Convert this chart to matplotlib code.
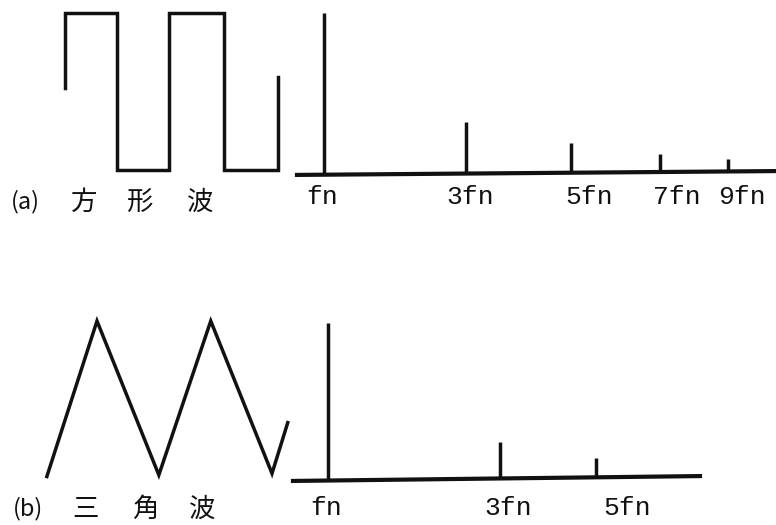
import matplotlib.pyplot as plt
import numpy as np

# -------------------------------
# Square / triangle waves and their spectra
# -------------------------------

# square wave: corner times (one unit ~ half period) and levels (0 = low, 1 = high)
sq_t = [0, 0, 0.98, 0.98, 1.95, 1.95, 2.98, 2.98, 4.0, 4.0]
sq_v = [0.52, 1, 1, 0, 0, 1, 1, 0, 0, 0.59]

# triangle wave: vertex times and levels
tri_t = [0.14, 1.0, 2.06, 2.95, 4.0, 4.27]
tri_v = [-0.01, 1.0, 0.0, 1.0, 0.01, 0.34]

# square wave spectrum (positions along the drawn axis, relative amplitudes)
harm_a = ['fn', '3fn', '5fn', '7fn', '9fn']
pos_a = [1.0, 2.0, 2.74, 3.37, 3.85]
amp_a = [1.0, 0.32, 0.19, 0.12, 0.09]
lab_a = [0.99, 2.03, 2.87, 3.49, 3.95]
base_a = ([0.81, 4.18], [-0.012, 0.012])

# triangle wave spectrum
harm_b = ['fn', '3fn', '5fn']
pos_b = [1.0, 2.0, 2.56]
amp_b = [1.0, 0.24, 0.14]
lab_b = [0.99, 2.05, 2.74]
base_b = ([0.797, 3.163], [-0.006, 0.025])

cap_a = ['(a)', '方', '形', '波']
cap_b = ['(b)', '三', '角', '波']

W, H = 776, 525
ink = '#111111'
fig = plt.figure(figsize=(W / 100, H / 100), dpi=100)


def px_axes(x0, y_top, x1, y_bot, xlim, ylim=(0, 1)):
    ax = fig.add_axes([x0 / W, 1 - y_bot / H, (x1 - x0) / W, (y_bot - y_top) / H])
    ax.set_xlim(*xlim)
    ax.set_ylim(*ylim)
    ax.axis('off')
    return ax


# waveforms
ax1 = px_axes(65, 13, 278, 170, (0, 4))
ax1.plot(sq_t, sq_v, color=ink, lw=2.5, solid_joinstyle='miter', clip_on=False)

ax2 = px_axes(97, 321, 272, 475, (1, 4))
ax2.plot(tri_t, tri_v, color=ink, lw=2.5, solid_joinstyle='miter', clip_on=False)


def spectrum(ax, base, pos, amp, lab, names, ylab):
    bx, by = base
    ax.plot(bx, by, color=ink, lw=3.0, clip_on=False)
    b0 = np.interp(pos, bx, by)
    ax.vlines(pos, b0, amp, color=ink, lw=2.5, clip_on=False)
    for x, s in zip(lab, names):
        ax.text(x, ylab, s, ha='center', va='center', fontsize=19,
                family='Liberation Mono', color=ink)


ax3 = px_axes(297, 13, 775, 173, base_a[0])
spectrum(ax3, base_a, pos_a, amp_a, lab_a, harm_a, -0.15)

ax4 = px_axes(293, 323, 700, 480, base_b[0])
spectrum(ax4, base_b, pos_b, amp_b, lab_b, harm_b, -0.18)

# captions
cjk = ['Noto Sans CJK JP', 'DejaVu Sans']
for xs, y, caps in [([25, 84, 140, 200], 202, cap_a), ([28, 85, 145, 202], 509, cap_b)]:
    for x, s in zip(xs, caps):
        fig.text(x / W, 1 - y / H, s, ha='center', va='center',
                 fontsize=17 if s.startswith('(') else 19, family=cjk, color=ink)

plt.savefig('out.png', dpi=100)
